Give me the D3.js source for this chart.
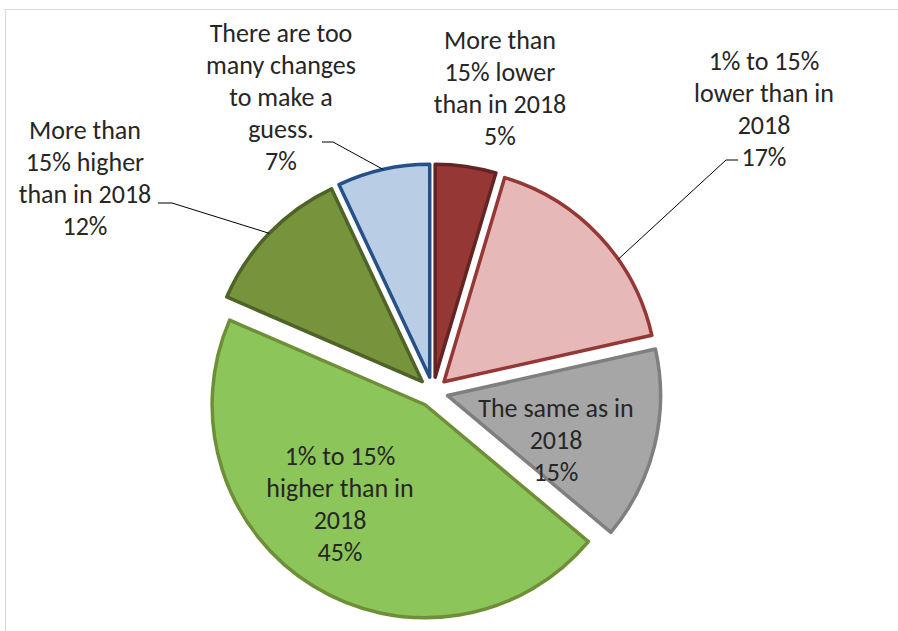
<!DOCTYPE html>
<html>
<head>
<meta charset="utf-8">
<script src="https://cdn.jsdelivr.net/npm/d3@7"></script>
<style>
    body { margin: 0; background: #fff; }
    text { font-family: Carlito, Lato, "Open Sans", sans-serif; font-size: 26px; fill: #262626; }
</style>
</head>
<body>
<div id="chart"></div>
<script>
// Données du graphique (sens horaire depuis midi)
const categories = [
    'More than 15% lower than in 2018',
    '1% to 15% lower than in 2018',
    'The same as in 2018',
    '1% to 15% higher than in 2018',
    'More than 15% higher than in 2018',
    'There are too many changes to make a guess.'
];
const values = [4.6, 16.9, 14.6, 45.4, 11.5, 7.0];
const labelLines = [
    ['More than', '15% lower', 'than in 2018'],
    ['1% to 15%', 'lower than in', '2018'],
    ['The same as in', '2018'],
    ['1% to 15%', 'higher than in', '2018'],
    ['More than', '15% higher', 'than in 2018'],
    ['There are too', 'many changes', 'to make a', 'guess.']
];
const fills = ['#953735', '#E6B9B8', '#A6A6A6', '#8CC55A', '#77933C', '#B9CDE5'];
const strokes = ['#632523', '#953735', '#7F7F7F', '#6E8E38', '#4F6228', '#25508A'];

// Mise en page des étiquettes (x centre, ligne de base de la 1re ligne)
const labelPos = [
    { x: 500, y: 49 },
    { x: 764, y: 70, leader: { from: [738, 160], elbow: [726, 160], frac: 0.63 } },
    { x: 556, y: 417 },
    { x: 340, y: 465 },
    { x: 85, y: 139, leader: { from: [158, 203], elbow: [172, 203], frac: 0.5 } },
    { x: 281, y: 42, leader: { from: [322, 142], elbow: [333, 142], frac: 0.5 } }
];

const width = 898;
const height = 631;
const cx = 433, cy = 392;
const radius = 213;
const explode = 15;
const lineHeight = 32;

const svg = d3.select('#chart')
    .append('svg')
    .attr('width', width)
    .attr('height', height);

// Cadre du graphique
svg.append('rect')
    .attr('x', 5.5)
    .attr('y', 9.5)
    .attr('width', width + 20)
    .attr('height', height + 20)
    .attr('fill', 'none')
    .attr('stroke', '#D9D9D9')
    .attr('stroke-width', 1);

const pie = d3.pie().sort(null).value(d => d);
const arcs = pie(values);
const arc = d3.arc().innerRadius(0).outerRadius(radius);

const offset = d => {
    const mid = (d.startAngle + d.endAngle) / 2;
    return [explode * Math.sin(mid), -explode * Math.cos(mid)];
};

const g = svg.append('g').attr('transform', `translate(${cx},${cy})`);

g.selectAll('path')
    .data(arcs)
    .join('path')
    .attr('d', arc)
    .attr('transform', d => `translate(${offset(d)})`)
    .attr('fill', (d, i) => fills[i])
    .attr('stroke', (d, i) => strokes[i])
    .attr('stroke-width', 3.5)
    .attr('stroke-linejoin', 'round');

// Lignes de rappel
arcs.forEach((d, i) => {
    const lp = labelPos[i];
    if (!lp.leader) return;
    const [ox, oy] = offset(d);
    const a = d.startAngle + (d.endAngle - d.startAngle) * lp.leader.frac;
    const ex = cx + ox + radius * Math.sin(a);
    const ey = cy + oy - radius * Math.cos(a);
    svg.append('polyline')
        .attr('points', [lp.leader.from, lp.leader.elbow, [ex, ey]].map(p => p.join(',')).join(' '))
        .attr('fill', 'none')
        .attr('stroke', '#000')
        .attr('stroke-width', 1);
});

// Étiquettes
arcs.forEach((d, i) => {
    const lp = labelPos[i];
    const lines = labelLines[i].concat([Math.round(values[i]) + '%']);
    const t = svg.append('text')
        .attr('text-anchor', 'middle')
        .attr('x', lp.x)
        .attr('y', lp.y);
    lines.forEach((line, j) => {
        t.append('tspan')
            .attr('x', lp.x)
            .attr('y', lp.y + j * lineHeight)
            .text(line);
    });
});
</script>
</body>
</html>
